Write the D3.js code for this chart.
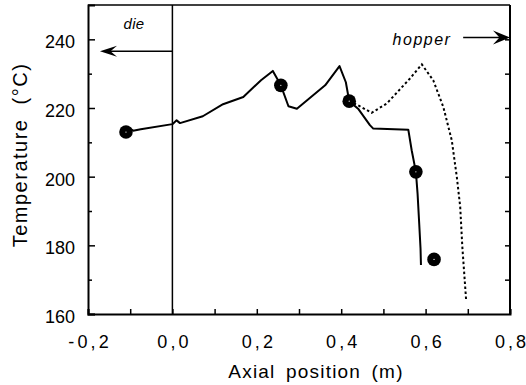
<!DOCTYPE html>
<html><head><meta charset="utf-8">
<script src="https://cdn.jsdelivr.net/npm/d3@7"></script>
<style>
html,body{margin:0;padding:0;background:#fff;}
svg{display:block;}
text{font-family:"Liberation Sans",Arial,Helvetica,sans-serif;fill:#000;}
</style></head>
<body><svg id="c" width="526" height="385"></svg>
<script>
// ---- data ----
const solidX = [-0.103,-0.093,-0.075,0.0,0.01,0.018,0.072,0.12,0.168,0.21,0.238,0.257,0.275,0.295,0.362,0.396,0.411,0.419,0.44,0.468,0.476,0.559,0.567,0.577,0.581,0.585,0.588,0.589];
const solidY = [214.2,213.4,213.8,215.3,216.4,215.6,217.6,221.1,223.2,228.1,230.8,226.6,220.5,219.8,226.6,232.2,227.5,222.0,219.8,215.0,214.0,213.7,207.7,201.4,195.0,186.0,179.0,174.3];
const dashX = [0.419,0.44,0.472,0.508,0.563,0.591,0.618,0.642,0.662,0.674,0.682,0.687,0.696];
const dashY = [222.0,220.8,218.6,221.3,228.6,232.7,228.1,220.3,210.6,199.9,191.2,179.6,164.1];
const pointX = [-0.11,0.257,0.419,0.577,0.62];
const pointY = [213.0,226.6,222.0,201.4,175.9];
const xTicks = [-0.2,0.0,0.2,0.4,0.6,0.8];
const xMinor = [-0.1,0.1,0.3,0.5,0.7];
const yTicks = [160,180,200,220,240];
const yMinor = [170,190,210,230];
const yRight = [170,180,190,200,210,220,230,240];

const svg = d3.select("#c");
svg.append("rect").attr("width",526).attr("height",385).attr("fill","#fff");
const L=88,R=510,T=5,B=314;
const x = d3.scaleLinear().domain([-0.2,0.8]).range([L,R]);
const y = d3.scaleLinear().domain([160,250]).range([B,T]);
const fmt = d => d3.format(".1f")(d).replace(".",",").replace("−","-");

// frame
svg.append("line").attr("x1",L).attr("x2",R).attr("y1",T).attr("y2",T).attr("stroke","#000").attr("stroke-width",1.5);
svg.append("line").attr("x1",R).attr("x2",R).attr("y1",T).attr("y2",B).attr("stroke","#000").attr("stroke-width",2);

// bottom axis
const gx = svg.append("g").attr("transform",`translate(0,${B})`)
  .call(d3.axisBottom(x).tickValues(xTicks).tickSize(-5).tickPadding(21).tickFormat(fmt));
gx.selectAll("text").attr("font-size",18).attr("dy","0.7em")
  .attr("dx", function(){ const n=this.textContent.length; return [0].concat(d3.range(n-1).map(()=>3.1)).join(" "); });
svg.append("g").attr("transform",`translate(0,${B})`)
  .call(d3.axisBottom(x).tickValues(xMinor).tickSize(-5).tickFormat(""))
  .select(".domain").remove();

// left axis
const gy = svg.append("g").attr("transform",`translate(${L},0)`)
  .call(d3.axisLeft(y).tickValues(yTicks).tickSize(-7).tickPadding(13).tickFormat(d3.format("d")));
gy.selectAll("text").attr("font-size",18).attr("dy","0.47em");
svg.append("g").attr("transform",`translate(${L},0)`)
  .call(d3.axisLeft(y).tickValues(yMinor).tickSize(-4).tickFormat(""))
  .select(".domain").remove();
// right axis ticks
svg.append("g").attr("transform",`translate(${R},0)`)
  .call(d3.axisRight(y).tickValues(yRight).tickSize(-5).tickFormat(""))
  .select(".domain").remove();

svg.selectAll(".domain").attr("stroke-width",2);
svg.selectAll(".tick line").attr("stroke-width",1.5);

// vertical line at x=0
svg.append("line").attr("x1",x(0)).attr("x2",x(0)).attr("y1",T).attr("y2",B)
  .attr("stroke","#000").attr("stroke-width",1.5);

// lines
const line = d3.line().x(d=>x(d[0])).y(d=>y(d[1]));
svg.append("path").datum(dashX.map((d,i)=>[d,dashY[i]])).attr("d",line)
  .attr("fill","none").attr("stroke","#000").attr("stroke-width",2).attr("stroke-dasharray","2.5,2.5");
svg.append("path").datum(solidX.map((d,i)=>[d,solidY[i]])).attr("d",line)
  .attr("fill","none").attr("stroke","#000").attr("stroke-width",2).attr("stroke-linejoin","round");

// points
const pts = pointX.map((d,i)=>[d,pointY[i]]);
svg.selectAll("circle.p").data(pts).enter().append("circle").attr("class","p")
  .attr("cx",d=>x(d[0])).attr("cy",d=>y(d[1])).attr("r",6.8).attr("fill","#000");
svg.selectAll("circle.h").data(pts).enter().append("circle").attr("class","h")
  .attr("cx",d=>x(d[0])).attr("cy",d=>y(d[1])).attr("r",0.6).attr("fill","#fff");

// arrows
function arrow(x0,x1,yv,hl,hh){
  const px0=x(x0), px1=x(x1), py=y(yv), dir=Math.sign(px1-px0);
  svg.append("line").attr("x1",px0).attr("x2",px1-dir*10).attr("y1",py).attr("y2",py)
    .attr("stroke","#000").attr("stroke-width",1.5);
  svg.append("path").attr("d",`M${px1},${py} L${px1-dir*hl},${py-hh/2} L${px1-dir*(hl*0.62)},${py} L${px1-dir*hl},${py+hh/2} Z`)
    .attr("fill","#000");
}
arrow(0,-0.1716,236.5,17,11);
arrow(0.689,0.8,240.5,17,14);

svg.append("text").attr("x",134).attr("y",29).attr("text-anchor","middle")
  .attr("font-size",15).attr("font-style","italic").attr("letter-spacing","0.4px").text("die");
svg.append("text").attr("x",422).attr("y",45).attr("text-anchor","middle")
  .attr("font-size",16).attr("font-style","italic").attr("letter-spacing","1.5px").text("hopper");

// axis titles
svg.append("text").attr("x",316).attr("y",377.5).attr("text-anchor","middle")
  .attr("font-size",19).attr("letter-spacing","1.2px").attr("word-spacing","4px").text("Axial position (m)");
svg.append("text").attr("transform","translate(27,155) rotate(-90)").attr("text-anchor","middle")
  .attr("font-size",20).attr("letter-spacing","1.5px").attr("word-spacing","7px").text("Temperature (°C)");
</script></body></html>
